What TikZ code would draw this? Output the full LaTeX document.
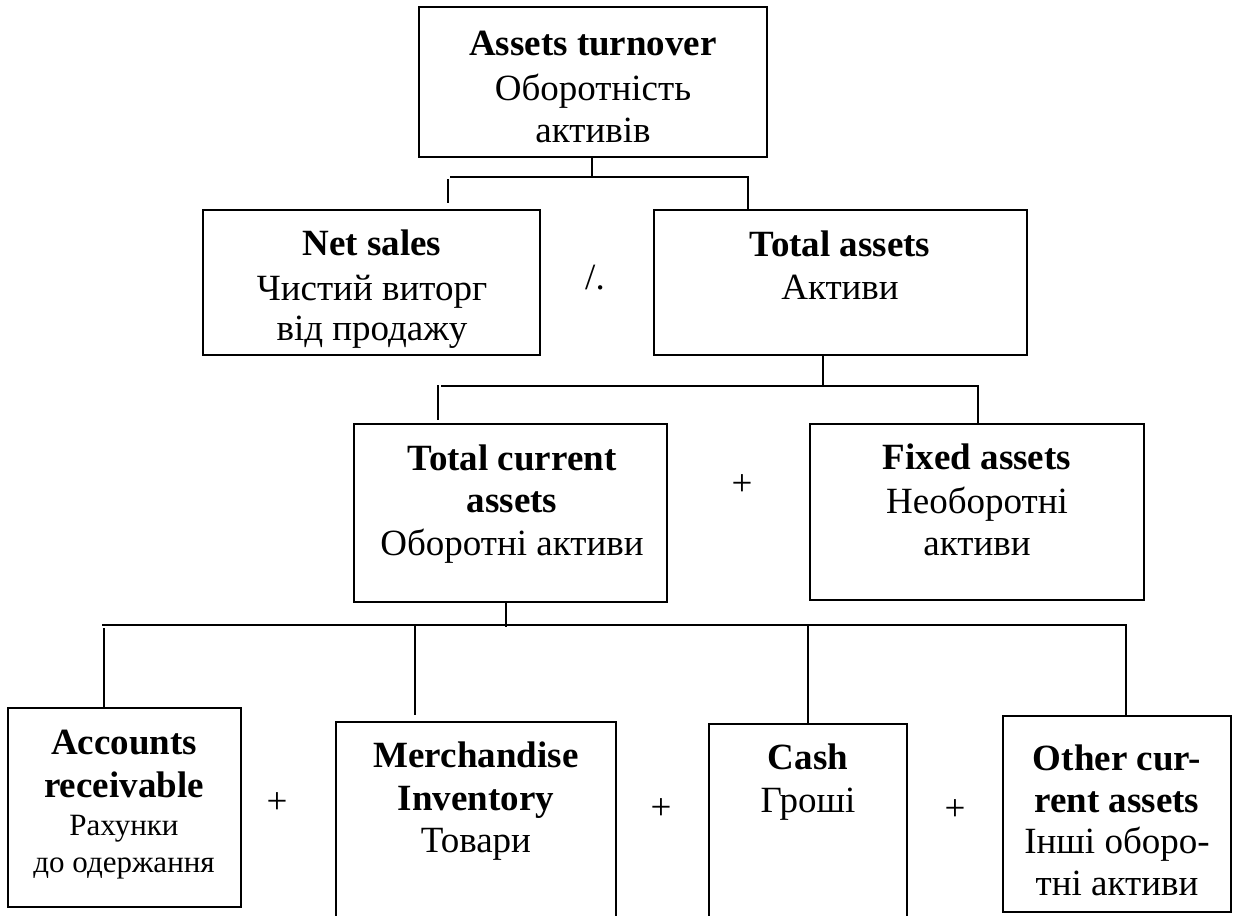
\documentclass[tikz,border=0pt]{standalone}
\usepackage{fontspec}
\setmainfont{Liberation Serif}
\usetikzlibrary{fit}
\begin{document}
\begin{tikzpicture}[x=0.5pt,y=-0.5pt,
  box/.style={draw,line width=1.1pt,inner sep=0pt},
  con/.style={line width=1.1pt},
  txt/.style={anchor=base,inner sep=0pt,font=\fontsize{18.5}{21}\selectfont},
  bt/.style={anchor=base,inner sep=0pt,font=\fontsize{18.5}{21}\selectfont\bfseries},
  st/.style={anchor=base,inner sep=0pt,font=\fontsize{15.5}{18}\selectfont},
  op/.style={inner sep=0pt,font=\fontsize{18.5}{21}\selectfont}]
\useasboundingbox (0,0) rectangle (1234,915);
\fill[white] (0,0) rectangle (1234,915);
\clip (0,0) rectangle (1234,915);

% boxes
\node[box, fit={(419,7) (767,157)}] (top) {};
\node[box, fit={(203,210) (540,355)}] (net) {};
\node[box, fit={(654,210) (1027,355)}] (ta) {};
\node[box, fit={(354,424) (667,602)}] (tca) {};
\node[box, fit={(810,424) (1144,600)}] (fa) {};
\node[box, fit={(8,708) (241,907)}] (ar) {};
\node[box, fit={(336,722) (616,960)}] (mi) {};
\node[box, fit={(709,724) (907,960)}] (cash) {};
\node[box, fit={(1003,716) (1231,912)}] (oca) {};

% texts
\node[bt]  (top1) at (593,56)  {Assets turnover};
\node[txt] (top2) at (593,100) {Оборотність};
\node[txt] (top3) at (593,142) {активів};

\node[bt]  (net1) at (372,255) {Net sales};
\node[txt] (net2) at (372,300) {Чистий виторг};
\node[txt] (net3) at (372,340) {від продажу};

\node[bt]  (ta1) at (840,256) {Total assets};
\node[txt] (ta2) at (840,299) {Активи};

\node[bt]  (tca1) at (512,470) {Total current};
\node[bt]  (tca2) at (512,512) {assets};
\node[txt] (tca3) at (512,555) {Оборотні активи};

\node[bt]  (fa1) at (977,469) {Fixed assets};
\node[txt] (fa2) at (977,513) {Необоротні};
\node[txt] (fa3) at (977,555) {активи};

\node[bt]  (ar1) at (124,754) {Accounts};
\node[bt]  (ar2) at (124,797) {receivable};
\node[st]  (ar3) at (124,835) {Рахунки};
\node[st]  (ar4) at (124,872) {до одержання};

\node[bt]  (mi1) at (476,767) {Merchandise};
\node[bt]  (mi2) at (476,810) {Inventory};
\node[txt] (mi3) at (476,852) {Товари};

\node[bt]  (cash1) at (808,769) {Cash};
\node[txt] (cash2) at (808,812) {Гроші};

\node[bt]  (oca1) at (1117,770) {Other cur-};
\node[bt]  (oca2) at (1117,812) {rent assets};
\node[txt] (oca3) at (1117,853) {Інші оборо-};
\node[txt] (oca4) at (1117,895) {тні активи};

% operators
\node[op] (div) at (595,278) {/.};
\node[op] (plus1) at (742,485) {+};
\node[op] (plus2) at (277,803) {+};
\node[op] (plus3) at (661,809) {+};
\node[op] (plus4) at (955,810) {+};

% connectors: level 1
\coordinate (a0) at (592,177);
\coordinate (a1) at (450,177);
\coordinate (a2) at (748,177);
\coordinate (a3) at (448,179);
\coordinate (a4) at (448,203);
\draw[con] (a0 |- top.south) -- (a0);
\draw[con] (a1) -- (a2) -- (a2 |- ta.north);
\draw[con] (a3) -- (a4);

% level 2
\coordinate (b0) at (823,386);
\coordinate (b1) at (441,386);
\coordinate (b2) at (978,386);
\coordinate (b3) at (438,385);
\coordinate (b4) at (438,420);
\draw[con] (b0 |- ta.south) -- (b0);
\draw[con] (b1) -- (b2) -- (b2 |- fa.north);
\draw[con] (b3) -- (b4);

% level 3
\coordinate (c0) at (506,627);
\coordinate (c1) at (102,625);
\coordinate (c2) at (1126,625);
\coordinate (c3) at (104,628);
\coordinate (c4) at (415,625);
\coordinate (c5) at (415,715);
\coordinate (c6) at (808,625);
\draw[con] (c0 |- tca.south) -- (c0);
\draw[con] (c1) -- (c2) -- (c2 |- oca.north);
\draw[con] (c3) -- (c3 |- ar.north);
\draw[con] (c4) -- (c5);
\draw[con] (c6) -- (c6 |- cash.north);
\end{tikzpicture}
\end{document}
